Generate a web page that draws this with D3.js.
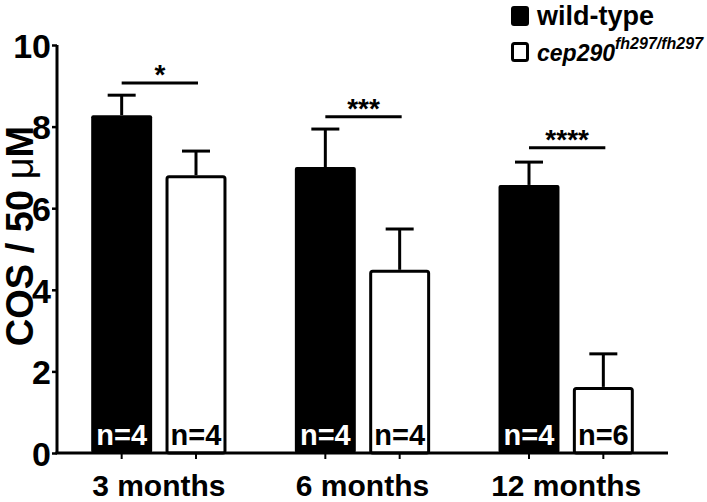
<!DOCTYPE html>
<html>
<head>
<meta charset="utf-8">
<script src="https://cdn.jsdelivr.net/npm/d3@7"></script>
<style>
html,body{margin:0;padding:0;background:#fff;}
svg{display:block;}
text{font-family:Arial,"Liberation Sans",sans-serif;font-weight:bold;fill:#000;}
</style>
</head>
<body>
<svg id="chart" width="707" height="502"></svg>
<script>
const groups = ["3 months", "6 months", "12 months"];
const series = ["wild-type", "cep290"];
const wtMean = [8.28, 7.01, 6.57];
const wtErr = [0.49, 0.93, 0.56];
const mutMean = [6.81, 4.49, 1.62];
const mutErr = [0.59, 1.00, 0.81];
const wtN = ["n=4", "n=4", "n=4"];
const mutN = ["n=4", "n=4", "n=6"];
const sigLabels = ["*", "***", "****"];
const sigLevels = [9.07, 8.24, 7.48];
const yTicks = [0, 2, 4, 6, 8, 10];

const svg = d3.select("#chart");
const x0 = 57, x1 = 668, yBottom = 453, yTop = 45;

const y = d3.scaleLinear().domain([0, 10]).range([yBottom, yTop]);
const xg = d3.scaleBand().domain(groups).range([x0, x1]).padding(0);
const xs = d3.scaleBand().domain(series).range([0, xg.bandwidth()]).paddingInner(0.18).paddingOuter(0.46);

const data = groups.map((g, i) => ([
  {g, s: series[0], mean: wtMean[i], err: wtErr[i], n: wtN[i]},
  {g, s: series[1], mean: mutMean[i], err: mutErr[i], n: mutN[i]}
])).flat();

const bw = xs.bandwidth();
const cx = d => xg(d.g) + xs(d.s) + bw / 2;

// error bars (upper only)
const eb = svg.append("g");
eb.selectAll("line.v").data(data).join("line")
  .attr("x1", cx).attr("x2", cx)
  .attr("y1", d => y(d.mean)).attr("y2", d => y(d.mean + d.err))
  .attr("stroke", "#000").attr("stroke-width", 3);
eb.selectAll("line.c").data(data).join("line")
  .attr("x1", d => cx(d) - 14).attr("x2", d => cx(d) + 14)
  .attr("y1", d => y(d.mean + d.err)).attr("y2", d => y(d.mean + d.err))
  .attr("stroke", "#000").attr("stroke-width", 3);

// bars
svg.append("g").selectAll("rect").data(data).join("rect")
  .attr("x", d => d.s === series[0] ? xg(d.g) + xs(d.s) : xg(d.g) + xs(d.s) + 1.5)
  .attr("width", d => d.s === series[0] ? bw : bw - 3)
  .attr("y", d => d.s === series[0] ? y(d.mean) : y(d.mean) + 1.5)
  .attr("height", d => d.s === series[0] ? yBottom - y(d.mean) : yBottom - y(d.mean) - 1.5)
  .attr("rx", 2)
  .attr("fill", d => d.s === series[0] ? "#000" : "#fff")
  .attr("stroke", d => d.s === series[0] ? "none" : "#000")
  .attr("stroke-width", 3);

// n labels
svg.append("g").selectAll("text").data(data).join("text")
  .attr("x", cx).attr("y", 445)
  .attr("text-anchor", "middle")
  .style("font-size", "29px")
  .style("fill", d => d.s === series[0] ? "#fff" : "#000")
  .text(d => d.n);

// significance
const sig = svg.append("g");
groups.forEach((g, i) => {
  const a = xg(g) + xs(series[0]) + bw / 2;
  const b = xg(g) + xs(series[1]) + bw / 2;
  sig.append("line").attr("x1", a).attr("x2", b + 2)
    .attr("y1", y(sigLevels[i])).attr("y2", y(sigLevels[i]))
    .attr("stroke", "#000").attr("stroke-width", 3);
  sig.append("text").attr("x", (a + b) / 2 + 1).attr("y", y(sigLevels[i]) + 1)
    .attr("text-anchor", "middle").style("font-size", "28px")
    .text(sigLabels[i]);
});

// y axis
const yAxis = d3.axisLeft(y).tickValues(yTicks).tickSize(5).tickPadding(1).tickFormat(d3.format("d"));
const ya = svg.append("g").attr("transform", `translate(${x0},0)`).call(yAxis);
ya.select(".domain").attr("stroke", "#000").attr("stroke-width", 3).attr("d", `M0,${yTop}V${yBottom}`);
ya.selectAll(".tick line").attr("stroke", "#000").attr("stroke-width", 2.5);
ya.selectAll(".tick text").style("font-size", "34px").style("font-family", "Arial, 'Liberation Sans', sans-serif").style("font-weight", "bold").attr("dy", "0.36em");

// x axis
const xTickVals = data.map(cx);
const xa = svg.append("g").attr("transform", `translate(0,${yBottom})`);
xa.append("line").attr("x1", x0 - 1.5).attr("x2", x1).attr("y1", 0).attr("y2", 0)
  .attr("stroke", "#000").attr("stroke-width", 3);
xa.selectAll("line.t").data(xTickVals).join("line")
  .attr("x1", d => d).attr("x2", d => d).attr("y1", 0).attr("y2", 6)
  .attr("stroke", "#000").attr("stroke-width", 2);
xa.selectAll("text").data(groups).join("text")
  .attr("x", d => xg(d) + xg.bandwidth() / 2).attr("y", 43)
  .attr("text-anchor", "middle").style("font-size", "30px")
  .text(d => d);

// y title
const yt = svg.append("text")
  .attr("transform", `translate(33,236) rotate(-90)`)
  .attr("text-anchor", "middle").style("font-size", "38px");
yt.append("tspan").text("COS / 50 ");
yt.append("tspan").style("font-weight", "normal").text("μ");
yt.append("tspan").text("M");

// legend
const lg = svg.append("g");
lg.append("rect").attr("x", 511).attr("y", 6).attr("width", 18).attr("height", 20).attr("rx", 3).attr("fill", "#000");
lg.append("rect").attr("x", 512.5).attr("y", 43.5).attr("width", 15).attr("height", 17).attr("rx", 2)
  .attr("fill", "#fff").attr("stroke", "#000").attr("stroke-width", 3);
lg.append("text").attr("x", 537).attr("y", 25).style("font-size", "27px").text(series[0]);
const l2 = lg.append("text").attr("x", 537).attr("y", 61).style("font-size", "23px").style("font-style", "italic");
l2.append("tspan").text(series[1]);
l2.append("tspan").attr("dy", -12).style("font-size", "16px").text("fh297/fh297");
</script>
</body>
</html>
